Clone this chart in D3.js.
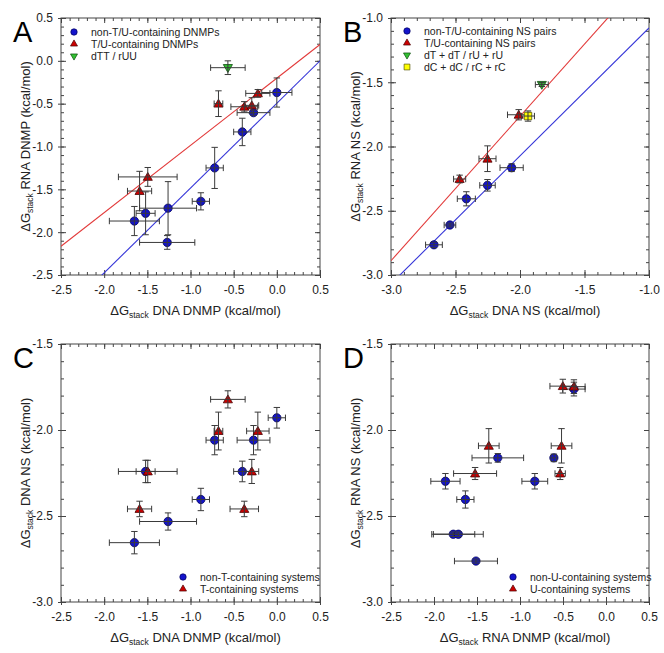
<!DOCTYPE html>
<html><head><meta charset="utf-8">
<script src="https://cdn.jsdelivr.net/npm/d3@7"></script>
<style>body{margin:0;background:#fff}svg{display:block;font-family:"Liberation Sans",Arial,sans-serif}</style>
</head><body><svg id="c" width="664" height="653"></svg>
<script>
// ---------- DATA ----------
// Panel A: DNA DNMP (x) vs RNA DNMP (y)
const aBlueX    = [0.00, -0.27, -0.40, -0.72, -0.88, -1.26, -1.52, -1.65, -1.27];
const aBlueY    = [-0.37, -0.605, -0.83, -1.25, -1.64, -1.72, -1.78, -1.87, -2.12];
const aBlueXErr = [0.175, 0.19, 0.10, 0.10, 0.10, 0.33, 0.11, 0.29, 0.32];
const aBlueYErr = [0.17, 0.03, 0.16, 0.24, 0.10, 0.31, 0.25, 0.17, 0.08];
const aRedX     = [-0.22, -0.676, -0.377, -0.29, -1.495, -1.59];
const aRedY     = [-0.38, -0.50, -0.536, -0.52, -1.355, -1.52];
const aRedXErr  = [0.14, 0.05, 0.155, 0.08, 0.34, 0.14];
const aRedYErr  = [0.045, 0.15, 0.06, 0.09, 0.11, 0.23];
const aGreenX   = [-0.567];
const aGreenY   = [-0.08];
const aGreenXErr= [0.20];
const aGreenYErr= [0.08];
const aFitRed   = [0.785, -0.2025];   // slope, intercept
const aFitBlue  = [0.99, -0.495];
const aLegend   = ["non-T/U-containing DNMPs", "T/U-containing DNMPs", "dTT / rUU"];

// Panel B: DNA NS (x) vs RNA NS (y)
const bBlueX    = [-2.667, -2.543, -2.416, -2.252, -2.065];
const bBlueY    = [-2.765, -2.611, -2.407, -2.302, -2.165];
const bBlueXErr = [0.065, 0.045, 0.07, 0.06, 0.09];
const bBlueYErr = [0.02, 0.015, 0.055, 0.045, 0.03];
const bRedX     = [-2.468, -2.252, -2.010];
const bRedY     = [-2.253, -2.095, -1.753];
const bRedXErr  = [0.047, 0.066, 0.087];
const bRedYErr  = [0.03, 0.10, 0.04];
const bGreenX   = [-1.831];
const bGreenY   = [-1.518];
const bGreenXErr= [0.05];
const bGreenYErr= [0.015];
const bYellowX  = [-1.938];
const bYellowY  = [-1.763];
const bYellowXErr=[0.05];
const bYellowYErr=[0.04];
const bFitRed   = [1.124, 0.483];
const bFitBlue  = [0.996, -0.081];
const bLegend   = ["non-T/U-containing NS pairs", "T/U-containing NS pairs", "dT + dT / rU + rU", "dC + dC / rC + rC"];

// Panel C: DNA DNMP (x) vs DNA NS (y)
const cBlueX    = [0.00, -0.72, -0.27, -0.40, -1.52, -0.88, -1.26, -1.65];
const cBlueY    = [-1.929, -2.059, -2.059, -2.241, -2.241, -2.404, -2.532, -2.655];
const cBlueXErr = [0.10, 0.10, 0.19, 0.10, 0.11, 0.10, 0.33, 0.29];
const cBlueYErr = [0.06, 0.085, 0.085, 0.06, 0.065, 0.065, 0.05, 0.065];
const cRedX     = [-0.567, -0.676, -0.22, -1.495, -0.29, -1.59, -0.377];
const cRedY     = [-1.822, -2.006, -2.006, -2.241, -2.241, -2.459, -2.459];
const cRedXErr  = [0.20, 0.05, 0.13, 0.34, 0.08, 0.14, 0.165];
const cRedYErr  = [0.05, 0.11, 0.11, 0.065, 0.07, 0.045, 0.045];
const cLegend   = ["non-T-containing systems", "T-containing systems"];

// Panel D: RNA DNMP (x) vs RNA NS (y)
const dBlueX    = [-0.373, -1.258, -0.606, -1.867, -0.828, -1.635, -1.776, -1.717, -1.512];
const dBlueY    = [-1.762, -2.162, -2.162, -2.298, -2.298, -2.404, -2.606, -2.606, -2.762];
const dBlueXErr = [0.13, 0.30, 0.033, 0.17, 0.15, 0.10, 0.25, 0.29, 0.25];
const dBlueYErr = [0.04, 0.025, 0.022, 0.045, 0.045, 0.05, 0.013, 0.013, 0.012];
const dRedX     = [-0.502, -0.373, -1.363, -0.517, -1.522, -0.533];
const dRedY     = [-1.745, -1.748, -2.092, -2.092, -2.253, -2.253];
const dRedXErr  = [0.15, 0.13, 0.12, 0.12, 0.25, 0.06];
const dRedYErr  = [0.04, 0.04, 0.10, 0.10, 0.035, 0.035];
const dLegend   = ["non-U-containing systems", "U-containing systems"];

// Axis ticks
const ticksDNMP = [-2.5, -2.0, -1.5, -1.0, -0.5, 0.0, 0.5];
const ticksNSB  = [-3.0, -2.5, -2.0, -1.5, -1.0];
const ticksNSC  = [-3.0, -2.5, -2.0, -1.5];

// ---------- DRAWING ----------
const svg = d3.select("#c");
svg.append("rect").attr("width",664).attr("height",653).attr("fill","#fff");

const COL = {
  blue:  {fill:"#1414cc", stroke:"#00005a", shape:d3.symbolCircle, size:54, rot:0},
  red:   {fill:"#cc0000", stroke:"#4a0000", shape:d3.symbolTriangle, size:36, rot:0},
  green: {fill:"#33c033", stroke:"#0a4a0a", shape:d3.symbolTriangle, size:36, rot:180},
  yellow:{fill:"#ffff00", stroke:"#555500", shape:d3.symbolSquare, size:56, rot:0}
};

function gLabel(t, rest){
  t.append("tspan").text("\u0394G");
  t.append("tspan").attr("font-size",8.5).attr("dy",3).text("stack");
  t.append("tspan").attr("dy",-3).text(" " + rest);
}

function minors(dom){
  const out=[]; const lo=Math.min(...dom), hi=Math.max(...dom);
  for(let v=Math.round(lo*10); v<=Math.round(hi*10); v++) out.push(v/10);
  return out;
}

function panel(p){
  const g = svg.append("g");
  const x = d3.scaleLinear().domain(p.xd).range([p.x0,p.x1]);
  const y = d3.scaleLinear().domain(p.yd).range([p.y1,p.y0]);
  const fmt = d=>d.toFixed(1);
  const axCol = "#444";
  function styleAx(s){ s.select(".domain").remove(); s.selectAll("line").attr("stroke",axCol); s.selectAll("text").attr("fill","#222").attr("font-size",12).attr("font-family","Liberation Sans, Arial, sans-serif"); }
  const mx = minors(p.xd), my = minors(p.yd);
  g.append("g").attr("transform",`translate(0,${p.y1})`).call(d3.axisBottom(x).tickValues(mx).tickFormat("").tickSizeInner(-3).tickSizeOuter(0)).call(styleAx);
  g.append("g").attr("transform",`translate(0,${p.y0})`).call(d3.axisTop(x).tickValues(mx).tickFormat("").tickSizeInner(-3).tickSizeOuter(0)).call(styleAx);
  g.append("g").attr("transform",`translate(${p.x0},0)`).call(d3.axisLeft(y).tickValues(my).tickFormat("").tickSizeInner(-3).tickSizeOuter(0)).call(styleAx);
  g.append("g").attr("transform",`translate(${p.x1},0)`).call(d3.axisRight(y).tickValues(my).tickFormat("").tickSizeInner(-3).tickSizeOuter(0)).call(styleAx);
  g.append("g").attr("transform",`translate(0,${p.y1})`).call(d3.axisBottom(x).tickValues(p.xt).tickFormat(fmt).tickSizeInner(3).tickSizeOuter(0).tickPadding(7)).call(styleAx);
  g.append("g").attr("transform",`translate(0,${p.y1})`).call(d3.axisBottom(x).tickValues(p.xt).tickFormat("").tickSizeInner(-5).tickSizeOuter(0)).call(styleAx);
  g.append("g").attr("transform",`translate(0,${p.y0})`).call(d3.axisTop(x).tickValues(p.xt).tickFormat("").tickSizeInner(-5).tickSizeOuter(0)).call(styleAx);
  g.append("g").attr("transform",`translate(${p.x0},0)`).call(d3.axisLeft(y).tickValues(p.yt).tickFormat(fmt).tickSizeInner(3).tickSizeOuter(0).tickPadding(5)).call(styleAx);
  g.append("g").attr("transform",`translate(${p.x0},0)`).call(d3.axisLeft(y).tickValues(p.yt).tickFormat("").tickSizeInner(-5).tickSizeOuter(0)).call(styleAx);
  g.append("g").attr("transform",`translate(${p.x1},0)`).call(d3.axisRight(y).tickValues(p.yt).tickFormat("").tickSizeInner(-5).tickSizeOuter(0)).call(styleAx);
  g.append("rect").attr("x",p.x0).attr("y",p.y0).attr("width",p.x1-p.x0).attr("height",p.y1-p.y0)
    .attr("fill","none").attr("stroke",axCol).attr("stroke-width",1);

  const cid = "clip"+p.id;
  svg.append("clipPath").attr("id",cid).append("rect").attr("x",p.x0).attr("y",p.y0).attr("width",p.x1-p.x0).attr("height",p.y1-p.y0);
  const pg = g.append("g").attr("clip-path",`url(#${cid})`);
  (p.fits||[]).forEach(f=>{
    const xs=[p.xd[0], p.xd[1]];
    pg.append("line").attr("x1",x(xs[0])).attr("y1",y(f.c[0]*xs[0]+f.c[1]))
      .attr("x2",x(xs[1])).attr("y2",y(f.c[0]*xs[1]+f.c[1]))
      .attr("stroke",f.col).attr("stroke-width",1.1);
  });

  p.series.forEach(s=>{
    const st = COL[s.c];
    const pts = s.x.map((v,i)=>({x:v,y:s.y[i],ex:s.ex[i],ey:s.ey[i]}));
    g.append("g").selectAll("path").data(pts).join("path")
      .attr("d", d3.symbol().type(st.shape).size(st.size))
      .attr("transform", d=>`translate(${x(d.x)},${y(d.y)+(st.shape===d3.symbolTriangle?(st.rot?-0.5:0.8):0)}) rotate(${st.rot})`)
      .attr("fill",st.fill).attr("stroke",st.stroke).attr("stroke-width",0.8);
    const eb = g.append("g").attr("stroke","#3a3a3a").attr("stroke-width",1).attr("fill","none");
    const cap=3.2;
    pts.forEach(d=>{
      const cx=x(d.x), cy=y(d.y);
      const xl=x(d.x-d.ex), xr=x(d.x+d.ex), yt=y(d.y+d.ey), yb=y(d.y-d.ey);
      eb.append("line").attr("x1",xl).attr("x2",xr).attr("y1",cy).attr("y2",cy);
      eb.append("line").attr("x1",xl).attr("x2",xl).attr("y1",cy-cap).attr("y2",cy+cap);
      eb.append("line").attr("x1",xr).attr("x2",xr).attr("y1",cy-cap).attr("y2",cy+cap);
      eb.append("line").attr("x1",cx).attr("x2",cx).attr("y1",yt).attr("y2",yb);
      eb.append("line").attr("x1",cx-cap).attr("x2",cx+cap).attr("y1",yt).attr("y2",yt);
      eb.append("line").attr("x1",cx-cap).attr("x2",cx+cap).attr("y1",yb).attr("y2",yb);
    });
  });

  p.legend.forEach((txt,i)=>{
    const st = COL[p.series[i].c];
    const ly = p.ly + i*12;
    g.append("path").attr("d", d3.symbol().type(st.shape).size(st.size*0.6))
      .attr("transform",`translate(${p.lx},${ly}) rotate(${st.rot})`)
      .attr("fill",st.fill).attr("stroke",st.stroke).attr("stroke-width",0.7);
    g.append("text").attr("x",p.lx+17).attr("y",ly+3.8).attr("font-size",10.5).attr("fill","#222").text(txt);
  });

  const xt = g.append("text").attr("x",(p.x0+p.x1)/2+5).attr("y",p.y1+40).attr("text-anchor","middle").attr("font-size",13).attr("fill","#222");
  gLabel(xt, p.xlab);
  const yt = g.append("text").attr("transform",`translate(${p.x0-31},${(p.y0+p.y1)/2}) rotate(-90)`).attr("text-anchor","middle").attr("font-size",13).attr("fill","#222");
  gLabel(yt, p.ylab);
  g.append("text").attr("x",p.x0-48).attr("y",p.y0+24).attr("font-size",29).attr("fill","#000").text(p.id);
}

panel({id:"A", x0:61, x1:320, y0:18, y1:275, xd:[-2.5,0.5], yd:[-2.5,0.5], xt:ticksDNMP, yt:ticksDNMP,
  xlab:"DNA DNMP (kcal/mol)", ylab:"RNA DNMP (kcal/mol)", lx:74, ly:32, legend:aLegend,
  fits:[{c:aFitRed,col:"#e23a3a"},{c:aFitBlue,col:"#3535d8"}],
  series:[{c:"blue",x:aBlueX,y:aBlueY,ex:aBlueXErr,ey:aBlueYErr},
          {c:"red",x:aRedX,y:aRedY,ex:aRedXErr,ey:aRedYErr},
          {c:"green",x:aGreenX,y:aGreenY,ex:aGreenXErr,ey:aGreenYErr}]});

panel({id:"B", x0:391, x1:649, y0:18, y1:275, xd:[-3.0,-1.0], yd:[-3.0,-1.0], xt:ticksNSB, yt:ticksNSB,
  xlab:"DNA NS (kcal/mol)", ylab:"RNA NS (kcal/mol)", lx:407, ly:31, legend:bLegend,
  fits:[{c:bFitRed,col:"#e23a3a"},{c:bFitBlue,col:"#3535d8"}],
  series:[{c:"blue",x:bBlueX,y:bBlueY,ex:bBlueXErr,ey:bBlueYErr},
          {c:"red",x:bRedX,y:bRedY,ex:bRedXErr,ey:bRedYErr},
          {c:"green",x:bGreenX,y:bGreenY,ex:bGreenXErr,ey:bGreenYErr},
          {c:"yellow",x:bYellowX,y:bYellowY,ex:bYellowXErr,ey:bYellowYErr}]});

panel({id:"C", x0:61, x1:320, y0:344, y1:602, xd:[-2.5,0.5], yd:[-3.0,-1.5], xt:ticksDNMP, yt:ticksNSC,
  xlab:"DNA DNMP (kcal/mol)", ylab:"DNA NS (kcal/mol)", lx:183, ly:577, legend:cLegend,
  series:[{c:"blue",x:cBlueX,y:cBlueY,ex:cBlueXErr,ey:cBlueYErr},
          {c:"red",x:cRedX,y:cRedY,ex:cRedXErr,ey:cRedYErr}]});

panel({id:"D", x0:391, x1:649, y0:344, y1:602, xd:[-2.5,0.5], yd:[-3.0,-1.5], xt:ticksDNMP, yt:ticksNSC,
  xlab:"RNA DNMP (kcal/mol)", ylab:"RNA NS (kcal/mol)", lx:513, ly:577, legend:dLegend,
  series:[{c:"blue",x:dBlueX,y:dBlueY,ex:dBlueXErr,ey:dBlueYErr},
          {c:"red",x:dRedX,y:dRedY,ex:dRedXErr,ey:dRedYErr}]});
</script></body></html>
